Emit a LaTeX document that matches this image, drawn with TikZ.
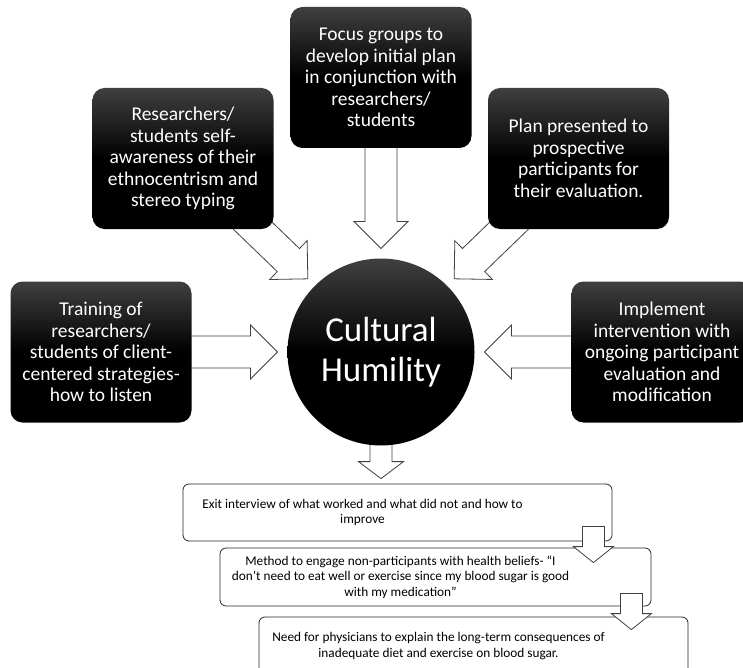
\documentclass[tikz,border=0pt]{standalone}
\usepackage{fontspec}
\setmainfont{Carlito}
\usetikzlibrary{calc, backgrounds}

\newcommand{\darkfont}{\fontsize{19.5}{21.5}\selectfont}
\newcommand{\hubfont}{\fontsize{35}{40}\selectfont}
\newcommand{\notefont}{\fontsize{13.3}{15.5}\selectfont}

\begin{document}
\begin{tikzpicture}[x=1pt, y=-1pt,
    darkbox/.style={rectangle, rounded corners=12pt,
      minimum width=181pt, minimum height=141pt, inner sep=2pt,
      top color=black!75, bottom color=black, middle color=black,
      text=white, align=center, font=\darkfont},
    notebox/.style={rectangle, rounded corners=6pt, draw=black!85,
      line width=0.8pt, fill=white, minimum width=429pt,
      minimum height=58pt, inner sep=0pt, font=\notefont},
    blockarrow/.style n args={3}{draw=black!75, fill=white,
      line width=0.8pt, line join=miter,
      to path={let \p1=(\tikztostart), \p2=(\tikztotarget),
        \n1={atan2(\y2-\y1,\x2-\x1)},
        \n2={veclen(\x2-\x1,\y2-\y1)} in
        ($(\p1)+(\n1+90:#1)$)
        -- ($(\p1)+(\n1:\n2-#3)+(\n1+90:#1)$)
        -- ($(\p1)+(\n1:\n2-#3)+(\n1+90:#2)$)
        -- (\p2)
        -- ($(\p1)+(\n1:\n2-#3)+(\n1-90:#2)$)
        -- ($(\p1)+(\n1:\n2-#3)+(\n1-90:#1)$)
        -- ($(\p1)+(\n1-90:#1)$) -- cycle}},
    bigarrow/.style={blockarrow={16pt}{27pt}{27pt}},
    smallarrow/.style={blockarrow={11pt}{20pt}{16pt}}]

    \useasboundingbox (0,0) rectangle (743,668);
    \clip (0,0) rectangle (743,668);

    \node[darkbox] (focus) at (381,77.5)
      {Focus groups to\\ develop initial plan\\ in conjunction with\\
       researchers/\\ students};

    \node[darkbox] (resl) at (183,158.5)
      {Researchers/\\ students self-\\ awareness of their\\
       ethnocentrism and\\ stereo typing};

    \node[darkbox] (plan) at (578.5,158.5)
      {Plan presented to\\ prospective\\ participants for\\
       their evaluation.};

    \node[darkbox] (train) at (101,352)
      {Training of\\ researchers/\\ students of client-\\
       centered strategies-\\ how to listen};

    \node[darkbox] (impl) at (662,352)
      {Implement\\ intervention with\\ ongoing participant\\
       evaluation and\\ modification};

    \node[circle,
      minimum size=187pt,
      outer sep=10pt,
      top color=black!75, bottom color=black, middle color=black,
      text=white, align=center, font=\hubfont] (hub) at (381,352)
      {Cultural\\ Humility};

    \node[notebox, minimum height=57pt] (exit) at (397.5,512.5)
      {\parbox{359pt}{\centering Exit interview of what worked and what
       did not and how to\\ improve}\hspace*{70pt}};

    \node[notebox] (method) at (435.5,577)
      {\parbox{361pt}{\centering Method to engage non-participants with
       health beliefs- “I\\ don’t need to eat well or exercise since my
       blood sugar is good\\ with my medication”}\hspace*{70pt}};

    \node[notebox] (need) at (473.5,646)
      {\parbox{359pt}{\centering Need for physicians to explain the
       long-term consequences of\\ inadequate diet and exercise on blood
       sugar.}\hspace*{70pt}};

    \coordinate (exitin) at ($(exit.north -| hub)+(0,5pt)$);
    \coordinate (stepa) at ($(exit.south east)+(-19pt,15pt)$);
    \coordinate (stepb) at ($(exit.south east |- method.north)+(-19pt,-15pt)$);
    \coordinate (stepc) at ($(method.south east)+(-20pt,13pt)$);
    \coordinate (stepd) at ($(method.south east |- need.north)+(-20pt,-13pt)$);

    \begin{pgfonlayer}{background}
      \fill[white] (0,0) rectangle (743,668);
      \draw[bigarrow] (focus.center) to (hub.north);
      \draw[bigarrow] (resl.center) to (hub.135);
      \draw[bigarrow] (plan.center) to (hub.45);
      \draw[bigarrow] (train.center) to (hub.west);
      \draw[bigarrow] (impl.center) to (hub.east);
      \draw[blockarrow={11pt}{22.5pt}{17pt}] (hub.center) to (exitin);
    \end{pgfonlayer}

    \draw[smallarrow] (stepa) to (stepb);
    \draw[smallarrow] (stepc) to (stepd);
\end{tikzpicture}
\end{document}
